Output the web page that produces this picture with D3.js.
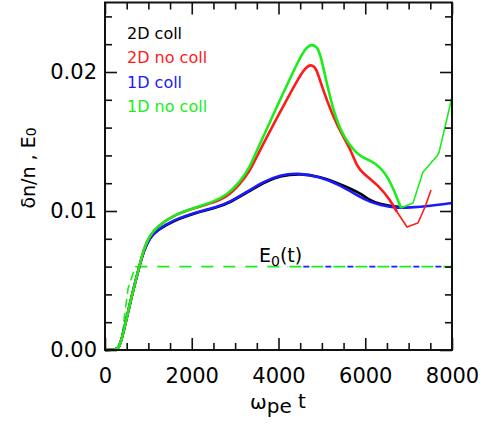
<!DOCTYPE html>
<html>
<head>
<meta charset="utf-8">
<script src="https://cdn.jsdelivr.net/npm/d3@7"></script>
<style>
  body { margin: 0; background: #fff; }
  svg { display: block; }
  text { font-family: "DejaVu Sans", sans-serif; }
</style>
</head>
<body>
<svg class="chart" width="494" height="426"></svg>
<script>
// [omega_pe t, dn/n]
const coll1D = [
  [0, 0], [250, 0], [330, 0.0002], [415, 0.0011], [600, 0.0037], [790, 0.006],
  [900, 0.0072], [1037, 0.0081], [1199, 0.00863], [1568, 0.00935], [2121, 0.00993],
  [2582, 0.01029], [2882, 0.01065], [3343, 0.01151], [3643, 0.01209], [4035, 0.01259],
  [4450, 0.01275], [4957, 0.01245], [5418, 0.01187], [5879, 0.0110], [6110, 0.01065],
  [6340, 0.01043], [6686, 0.01022], [7032, 0.01025], [7493, 0.01036], [8000, 0.01058]
]
const coll2D = [
  [0, 0], [250, 0], [330, 0.0002], [415, 0.0011], [600, 0.0037], [790, 0.006],
  [900, 0.0072], [1037, 0.0081], [1199, 0.0086], [1568, 0.0093], [2121, 0.0099],
  [2582, 0.01025], [2882, 0.0106], [3343, 0.01145], [3643, 0.01203], [4035, 0.01253],
  [4500, 0.0127], [4957, 0.01248], [5418, 0.01194], [5879, 0.0113], [6110, 0.01075],
  [6340, 0.0105], [6571, 0.01036], [6800, 0.01029]
]
const nocoll2D = [
  [0, 0], [250, 0], [330, 0.0002], [415, 0.0011], [600, 0.0037], [790, 0.006],
  [900, 0.00734], [1037, 0.00827], [1199, 0.00885], [1568, 0.0097], [2121, 0.01027],
  [2490, 0.0106], [2813, 0.0110], [3112, 0.01194], [3343, 0.01288], [3504, 0.01396],
  [4035, 0.01712], [4496, 0.01978], [4650, 0.0204], [4772, 0.02055], [4880, 0.0202],
  [4957, 0.01935], [5256, 0.01676], [5533, 0.0151], [5648, 0.0145], [5810, 0.0132],
  [5948, 0.0127], [6340, 0.01173], [6571, 0.01079], [6733, 0.00993], [6963, 0.00885],
  [7216, 0.00914], [7378, 0.01029], [7516, 0.01151]
]
const nocoll1D = [
  [0, 0], [250, 0], [330, 0.0002], [415, 0.0011], [600, 0.0037], [790, 0.006],
  [900, 0.00734], [1037, 0.00827], [1199, 0.00885], [1568, 0.00971], [2121, 0.01029],
  [2490, 0.01065], [2813, 0.01115], [3112, 0.01209], [3343, 0.01317], [3504, 0.01439],
  [4035, 0.01799], [4496, 0.02108], [4650, 0.0218], [4772, 0.022], [4880, 0.0218],
  [4957, 0.02151], [5256, 0.01705], [5533, 0.01511], [5879, 0.01388], [6110, 0.01367],
  [6340, 0.01317], [6571, 0.01223], [6824, 0.01022], [7101, 0.01058], [7331, 0.0128],
  [7654, 0.01396], [7700, 0.0142], [8000, 0.0182]
]
// E0(t), same for all runs
const e0Rise = [[0, 0], [300, 0], [400, 0.0012], [530, 0.0044], [700, 0.006]]
const e0Flat = [[700, 0.006], [8000, 0.006]]
const e0BlueFrom = 4200

const legendNames = ['2D coll', '2D no coll', '1D coll', '1D no coll']
const legendColors = ['#000000', '#ff1a1a', '#1a1aff', '#1aee1a']

const xTicks = [0, 2000, 4000, 6000, 8000]
const yTicks = [0, 0.01, 0.02]

const svg = d3.select('.chart')

const mLeft = 105, mRight = 452, mTop = 2.5, mBottom = 350

const xSc = d3.scaleLinear().domain([0, 8000]).range([mLeft, mRight])
const ySc = d3.scaleLinear().domain([0, 0.025]).range([mBottom, mTop])

// curves: smooth part, then a thinner jagged tail after the dip
const series = [
  { data: coll2D, color: legendColors[0], split: 9000 },
  { data: coll1D, color: legendColors[2], split: 9000 },
  { data: nocoll2D, color: legendColors[1], split: 6733 },
  { data: nocoll1D, color: legendColors[3], split: 6824 }
]

const smooth = d3.line()
  .x(d => xSc(d[0]))
  .y(d => ySc(d[1]))
  .curve(d3.curveBasis)

const jagged = d3.line()
  .x(d => xSc(d[0]))
  .y(d => ySc(d[1]))

// E0 dashed lines (blue peeks through the green gaps late on)
const dashOn = 12, dashOff = 10, period = dashOn + dashOff
const blueStartPx = xSc(e0BlueFrom) - xSc(e0Flat[0][0])
const bluePhase = ((14 - blueStartPx) % period + period) % period
svg.append('path')
  .attr('d', jagged([[e0BlueFrom, e0Flat[0][1]], e0Flat[1]]))
  .attr('stroke', legendColors[2])
  .attr('stroke-width', 1.6)
  .attr('stroke-dasharray', `6,${period - 6}`)
  .attr('stroke-dashoffset', -bluePhase)
  .attr('fill', 'none')

svg.append('path')
  .attr('d', jagged(e0Rise))
  .attr('stroke', legendColors[3])
  .attr('stroke-width', 1.6)
  .attr('stroke-dasharray', '9,5')
  .attr('fill', 'none')

svg.append('path')
  .attr('d', jagged(e0Flat))
  .attr('stroke', legendColors[3])
  .attr('stroke-width', 1.6)
  .attr('stroke-dasharray', `${dashOn},${dashOff}`)
  .attr('fill', 'none')

series.forEach(s => {
  const main = s.data.filter(d => d[0] <= s.split)
  const tail = s.data.filter(d => d[0] >= s.split)
  svg.append('path')
    .attr('d', smooth(main))
    .attr('stroke', s.color)
    .attr('stroke-width', 2.6)
    .attr('stroke-linejoin', 'round')
    .attr('fill', 'none')
  if (tail.length > 1) {
    svg.append('path')
      .attr('d', jagged(tail))
      .attr('stroke', s.color)
      .attr('stroke-width', 1.6)
      .attr('fill', 'none')
  }
})

// axes, ticks pointing inward
const fmtY = d3.format('.2f')
const minorX = d3.range(0, 8001, 500).filter(t => t % 2000)
const minorY = d3.range(0, 0.0251, 0.002).filter(v => Math.abs(v * 100 - Math.round(v * 100)) > 1e-6)

function drawAxis(axis, transform) {
  const g = svg.append('g').attr('transform', transform).call(axis)
  g.select('.domain').remove()
  g.selectAll('line').attr('stroke', '#111').attr('stroke-width', 1.6)
  g.selectAll('text').attr('font-size', 21).attr('fill', '#000').style('font-family', '"DejaVu Sans", sans-serif')
  return g
}

drawAxis(d3.axisBottom(xSc).tickValues(xTicks).tickSize(-12).tickPadding(18).tickFormat(d3.format('d')), `translate(0,${mBottom})`)
drawAxis(d3.axisBottom(xSc).tickValues(minorX).tickSize(-7).tickFormat(''), `translate(0,${mBottom})`)
drawAxis(d3.axisTop(xSc).tickValues(xTicks).tickSize(-12).tickFormat(''), `translate(0,${mTop})`)
drawAxis(d3.axisTop(xSc).tickValues(minorX).tickSize(-7).tickFormat(''), `translate(0,${mTop})`)
drawAxis(d3.axisLeft(ySc).tickValues(yTicks).tickSize(-12).tickPadding(8).tickFormat(fmtY), `translate(${mLeft},0)`)
drawAxis(d3.axisLeft(ySc).tickValues(minorY).tickSize(-7).tickFormat(''), `translate(${mLeft},0)`)
drawAxis(d3.axisRight(ySc).tickValues(yTicks).tickSize(-12).tickFormat(''), `translate(${mRight},0)`)
drawAxis(d3.axisRight(ySc).tickValues(minorY).tickSize(-7).tickFormat(''), `translate(${mRight},0)`)

svg.append('rect')
  .attr('x', mLeft)
  .attr('y', mTop)
  .attr('width', mRight - mLeft)
  .attr('height', mBottom - mTop)
  .attr('fill', 'none')
  .attr('stroke', '#111')
  .attr('stroke-width', 2)

// legend
svg.selectAll('.legend')
  .data(legendNames)
  .enter()
  .append('text')
  .attr('x', 127)
  .attr('y', (d, i) => 39 + i * 24.3)
  .attr('font-size', 16)
  .attr('fill', (d, i) => legendColors[i])
  .text(d => d)

// E0(t) label
const e0Label = svg.append('text')
  .attr('x', xSc(3550))
  .attr('y', ySc(0.006) - 5)
  .attr('font-size', 19)
e0Label.append('tspan').text('E')
e0Label.append('tspan').attr('font-size', 14).attr('dy', 4).text('0')
e0Label.append('tspan').attr('dy', -4).text('(t)')

// axis titles
const xTitle = svg.append('text')
  .attr('x', 250)
  .attr('y', 409)
  .attr('font-size', 20)
xTitle.append('tspan').text('ω')
xTitle.append('tspan').attr('dy', 4).text('pe')
xTitle.append('tspan').attr('dy', -5).text(' t')

const yTitle = svg.append('text')
  .attr('transform', 'translate(35,168) rotate(-90)')
  .attr('text-anchor', 'middle')
  .attr('font-size', 19)
yTitle.append('tspan').text('δn/n , E')
yTitle.append('tspan').attr('font-size', 14).attr('dy', 1).text('0')
</script>
</body>
</html>
